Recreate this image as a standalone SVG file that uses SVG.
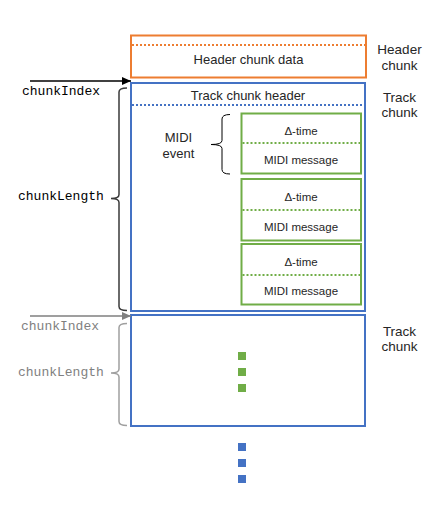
<svg xmlns="http://www.w3.org/2000/svg" width="432" height="528" viewBox="0 0 432 528">
<defs>
<style>
.orange{fill:#fff;stroke:#ED7D31;stroke-width:2}
.blue{fill:#fff;stroke:#4472C4;stroke-width:2}
.green{fill:#fff;stroke:#70AD47;stroke-width:2}
.dotO{stroke:#ED7D31;stroke-width:2;stroke-dasharray:2 2}
.dotB{stroke:#4472C4;stroke-width:2;stroke-dasharray:2 2}
.dotG{stroke:#70AD47;stroke-width:2;stroke-dasharray:2 2}
.t{font-family:"Liberation Sans",Arial,sans-serif;font-size:13px;fill:#262626;text-anchor:middle}
.s{font-family:"Liberation Sans",Arial,sans-serif;font-size:11.5px;fill:#262626;text-anchor:middle}
.side{font-family:"Liberation Sans",Arial,sans-serif;font-size:13.5px;fill:#262626;text-anchor:middle}
.mono{font-family:"Liberation Mono","Courier New",monospace;font-size:13px;fill:#000}
.monoG{font-family:"Liberation Mono","Courier New",monospace;font-size:13px;fill:#7f7f7f}
.brace{fill:none;stroke:#3a3a3a;stroke-width:1.5}
.braceG{fill:none;stroke:#a0a0a0;stroke-width:1.5}
.braceE{fill:none;stroke:#000;stroke-width:1}
</style>
<marker id="arrBlack" markerWidth="10" markerHeight="8" refX="9" refY="4" orient="auto" markerUnits="userSpaceOnUse">
<path d="M0,0 L9,4 L0,8 Z" fill="#000"/>
</marker>
<marker id="arrGray" markerWidth="10" markerHeight="8" refX="9" refY="4" orient="auto" markerUnits="userSpaceOnUse">
<path d="M0,0 L9,4 L0,8 Z" fill="#7f7f7f"/>
</marker>
</defs>
<rect width="432" height="528" fill="#fff"/>

<g id="header-chunk">
<rect class="orange" x="131" y="35.5" width="235" height="42"/>
<line class="dotO" x1="132" y1="45" x2="365" y2="45"/>
<text class="t" x="248.5" y="64">Header chunk data</text>
</g>

<g id="track-chunk-1">
<rect class="blue" x="131" y="83" width="234" height="228"/>
<line class="dotB" x1="132" y1="105" x2="364" y2="105"/>
<text class="t" x="248" y="100">Track chunk header</text>
</g>

<g id="midi-event-1">
<rect class="green" x="241.5" y="113.5" width="119.5" height="60"/>
<line class="dotG" x1="242.5" y1="143" x2="360" y2="143"/>
<text class="s" x="301" y="135">Δ-time</text>
<text class="s" x="301" y="163.5">MIDI message</text>
</g>

<g id="midi-event-2">
<rect class="green" x="241.5" y="179" width="119.5" height="61.5"/>
<line class="dotG" x1="242.5" y1="210" x2="360" y2="210"/>
<text class="s" x="301" y="201">Δ-time</text>
<text class="s" x="301" y="230.5">MIDI message</text>
</g>

<g id="midi-event-3">
<rect class="green" x="241.5" y="244" width="119.5" height="60.5"/>
<line class="dotG" x1="242.5" y1="275" x2="360" y2="275"/>
<text class="s" x="301" y="266">Δ-time</text>
<text class="s" x="301" y="295">MIDI message</text>
</g>

<g id="midi-event-label">
<text class="t" x="178.5" y="142">MIDI</text>
<text class="t" x="178.5" y="158">event</text>
</g>

<g id="track-chunk-2">
<rect class="blue" x="131" y="315" width="234" height="111"/>
</g>

<g id="green-dots">
<rect x="238" y="352" width="8" height="8" fill="#70AD47"/>
<rect x="238" y="368" width="8" height="8" fill="#70AD47"/>
<rect x="238" y="384" width="8" height="8" fill="#70AD47"/>
</g>

<g id="blue-dots">
<rect x="238" y="443" width="8" height="8" fill="#4472C4"/>
<rect x="238" y="459" width="8" height="8" fill="#4472C4"/>
<rect x="238" y="475" width="8" height="8" fill="#4472C4"/>
</g>

<g id="side-labels">
<text class="side" x="399.5" y="54">Header</text>
<text class="side" x="399.5" y="69.5">chunk</text>
<text class="side" x="399.5" y="101.5">Track</text>
<text class="side" x="399.5" y="117">chunk</text>
<text class="side" x="399.5" y="335.5">Track</text>
<text class="side" x="399.5" y="351">chunk</text>
</g>

<g id="index-labels">
<text class="mono" x="22" y="95">chunkIndex</text>
<text class="mono" x="18" y="200">chunkLength</text>
<text class="monoG" x="21" y="330">chunkIndex</text>
<text class="monoG" x="18" y="376">chunkLength</text>
</g>

<g id="connectors">
<line x1="30" y1="81" x2="131" y2="81" stroke="#000" stroke-width="1.3" marker-end="url(#arrBlack)"/>
<line x1="30" y1="316" x2="131" y2="316" stroke="#7f7f7f" stroke-width="1.3" marker-end="url(#arrGray)"/>
<path class="brace" d="M127,88 Q119,88 119,92 V194.5 Q119,198.5 111,198.5 Q119,198.5 119,202.5 V306.5 Q119,310.5 127,310.5"/>
<path class="braceG" d="M127,323.5 Q119,323.5 119,327.5 V369 Q119,373 111,373 Q119,373 119,377 V421.5 Q119,425.5 127,425.5"/>
<path class="braceE" d="M230,114.5 Q222,114.5 222,119 V140.5 Q222,144.5 211,144.5 Q222,144.5 222,148.5 V169.5 Q222,174 230,174"/>
</g>
</svg>
